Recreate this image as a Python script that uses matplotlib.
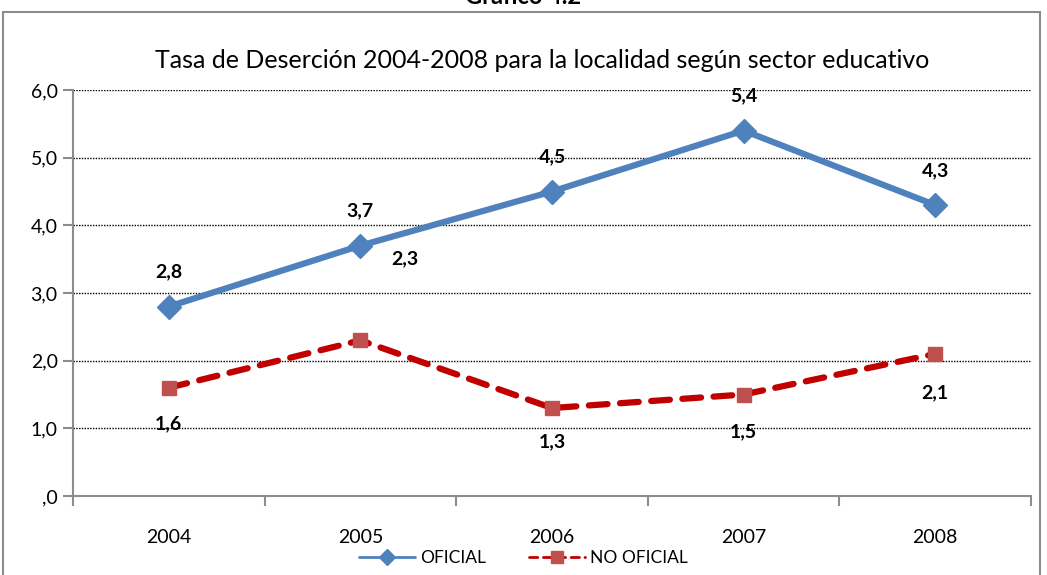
import matplotlib.pyplot as plt
from matplotlib.patches import Rectangle

plt.rcParams['font.family'] = ['Lato', 'DejaVu Sans']

# datos
anios = ['2004', '2005', '2006', '2007', '2008']
oficial = [2.8, 3.7, 4.5, 5.4, 4.3]
no_oficial = [1.6, 2.3, 1.3, 1.5, 2.1]
ticks_y = [0, 1, 2, 3, 4, 5, 6]
etiquetas_y = [',0', '1,0', '2,0', '3,0', '4,0', '5,0', '6,0']

fig = plt.figure(figsize=(10.47, 5.75), dpi=100)
ax = fig.add_axes([73 / 1047, 1 - 496 / 575, (1031 - 73) / 1047, 406 / 575])

# marco del gráfico
fig.patches.append(Rectangle((3 / 1047, -0.05), 1037 / 1047, 1 - 12 / 575 + 0.05,
                             transform=fig.transFigure, fill=False,
                             edgecolor='#8c8c8c', linewidth=1.5))
fig.text(0.5, 1 + 4 / 575, 'Gráfico 4.2', ha='center', va='center',
         fontsize=17, fontweight='bold')
fig.text(542 / 1047, 1 - 60 / 575, 'Tasa de Deserción 2004-2008 para la localidad según sector educativo',
         ha='center', va='center', fontsize=18)

x = list(range(len(anios)))
ax.plot(x, oficial, color='#4F81BD', linewidth=4.5, marker='D', markersize=12,
        solid_capstyle='round', solid_joinstyle='round', label='OFICIAL', zorder=3)
ax.plot(x, no_oficial, color='#C00000', linewidth=4.5, linestyle=(0, (3, 2)),
        dash_capstyle='round', marker='s', markersize=10, markerfacecolor='#C0504D',
        markeredgecolor='#C0504D', label='NO OFICIAL', zorder=3)

# etiquetas de datos
for i, v in enumerate(oficial):
    ax.annotate(f'{v:.1f}'.replace('.', ','), (i, v), xytext=(0, 25), textcoords='offset points',
                ha='center', va='center', fontsize=14, fontweight='bold')
desplaz = [(0, -26), (32, 59), (0, -24), (0, -27), (0, -28)]
for i, v in enumerate(no_oficial):
    ax.annotate(f'{v:.1f}'.replace('.', ','), (i, v), xytext=desplaz[i], textcoords='offset points',
                ha='center', va='center', fontsize=14, fontweight='bold')

ax.set_xlim(-0.5, len(anios) - 0.5)
ax.set_ylim(0, 6)
ax.set_yticks(ticks_y)
ax.set_yticklabels(etiquetas_y, fontsize=14)
ax.set_xticks(x)
ax.set_xticklabels(anios, fontsize=14)
ax.tick_params(axis='x', length=0, pad=24)
ax.set_xticks([i - 0.5 for i in range(len(anios) + 1)], minor=True)
ax.tick_params(axis='x', which='minor', length=7, color='#8c8c8c', width=1.5)
ax.tick_params(axis='y', length=7, color='#8c8c8c', width=1.5, pad=4)

ax.yaxis.grid(True, linestyle=(0, (1, 1)), color='black', linewidth=1)
ax.set_axisbelow(True)
for s in ['top', 'right']:
    ax.spines[s].set_visible(False)
for s in ['left', 'bottom']:
    ax.spines[s].set_color('#8c8c8c')
    ax.spines[s].set_linewidth(1.5)

leg = fig.legend(loc='center', bbox_to_anchor=(0.5, 1 - 558 / 575), ncol=2, frameon=False,
                 fontsize=12.5, handlelength=3.2, columnspacing=2.5, handletextpad=0.3)
for h in leg.legend_handles:
    h.set_linewidth(2)
    h.set_markersize(8)

fig.savefig('out.png', dpi=100)
